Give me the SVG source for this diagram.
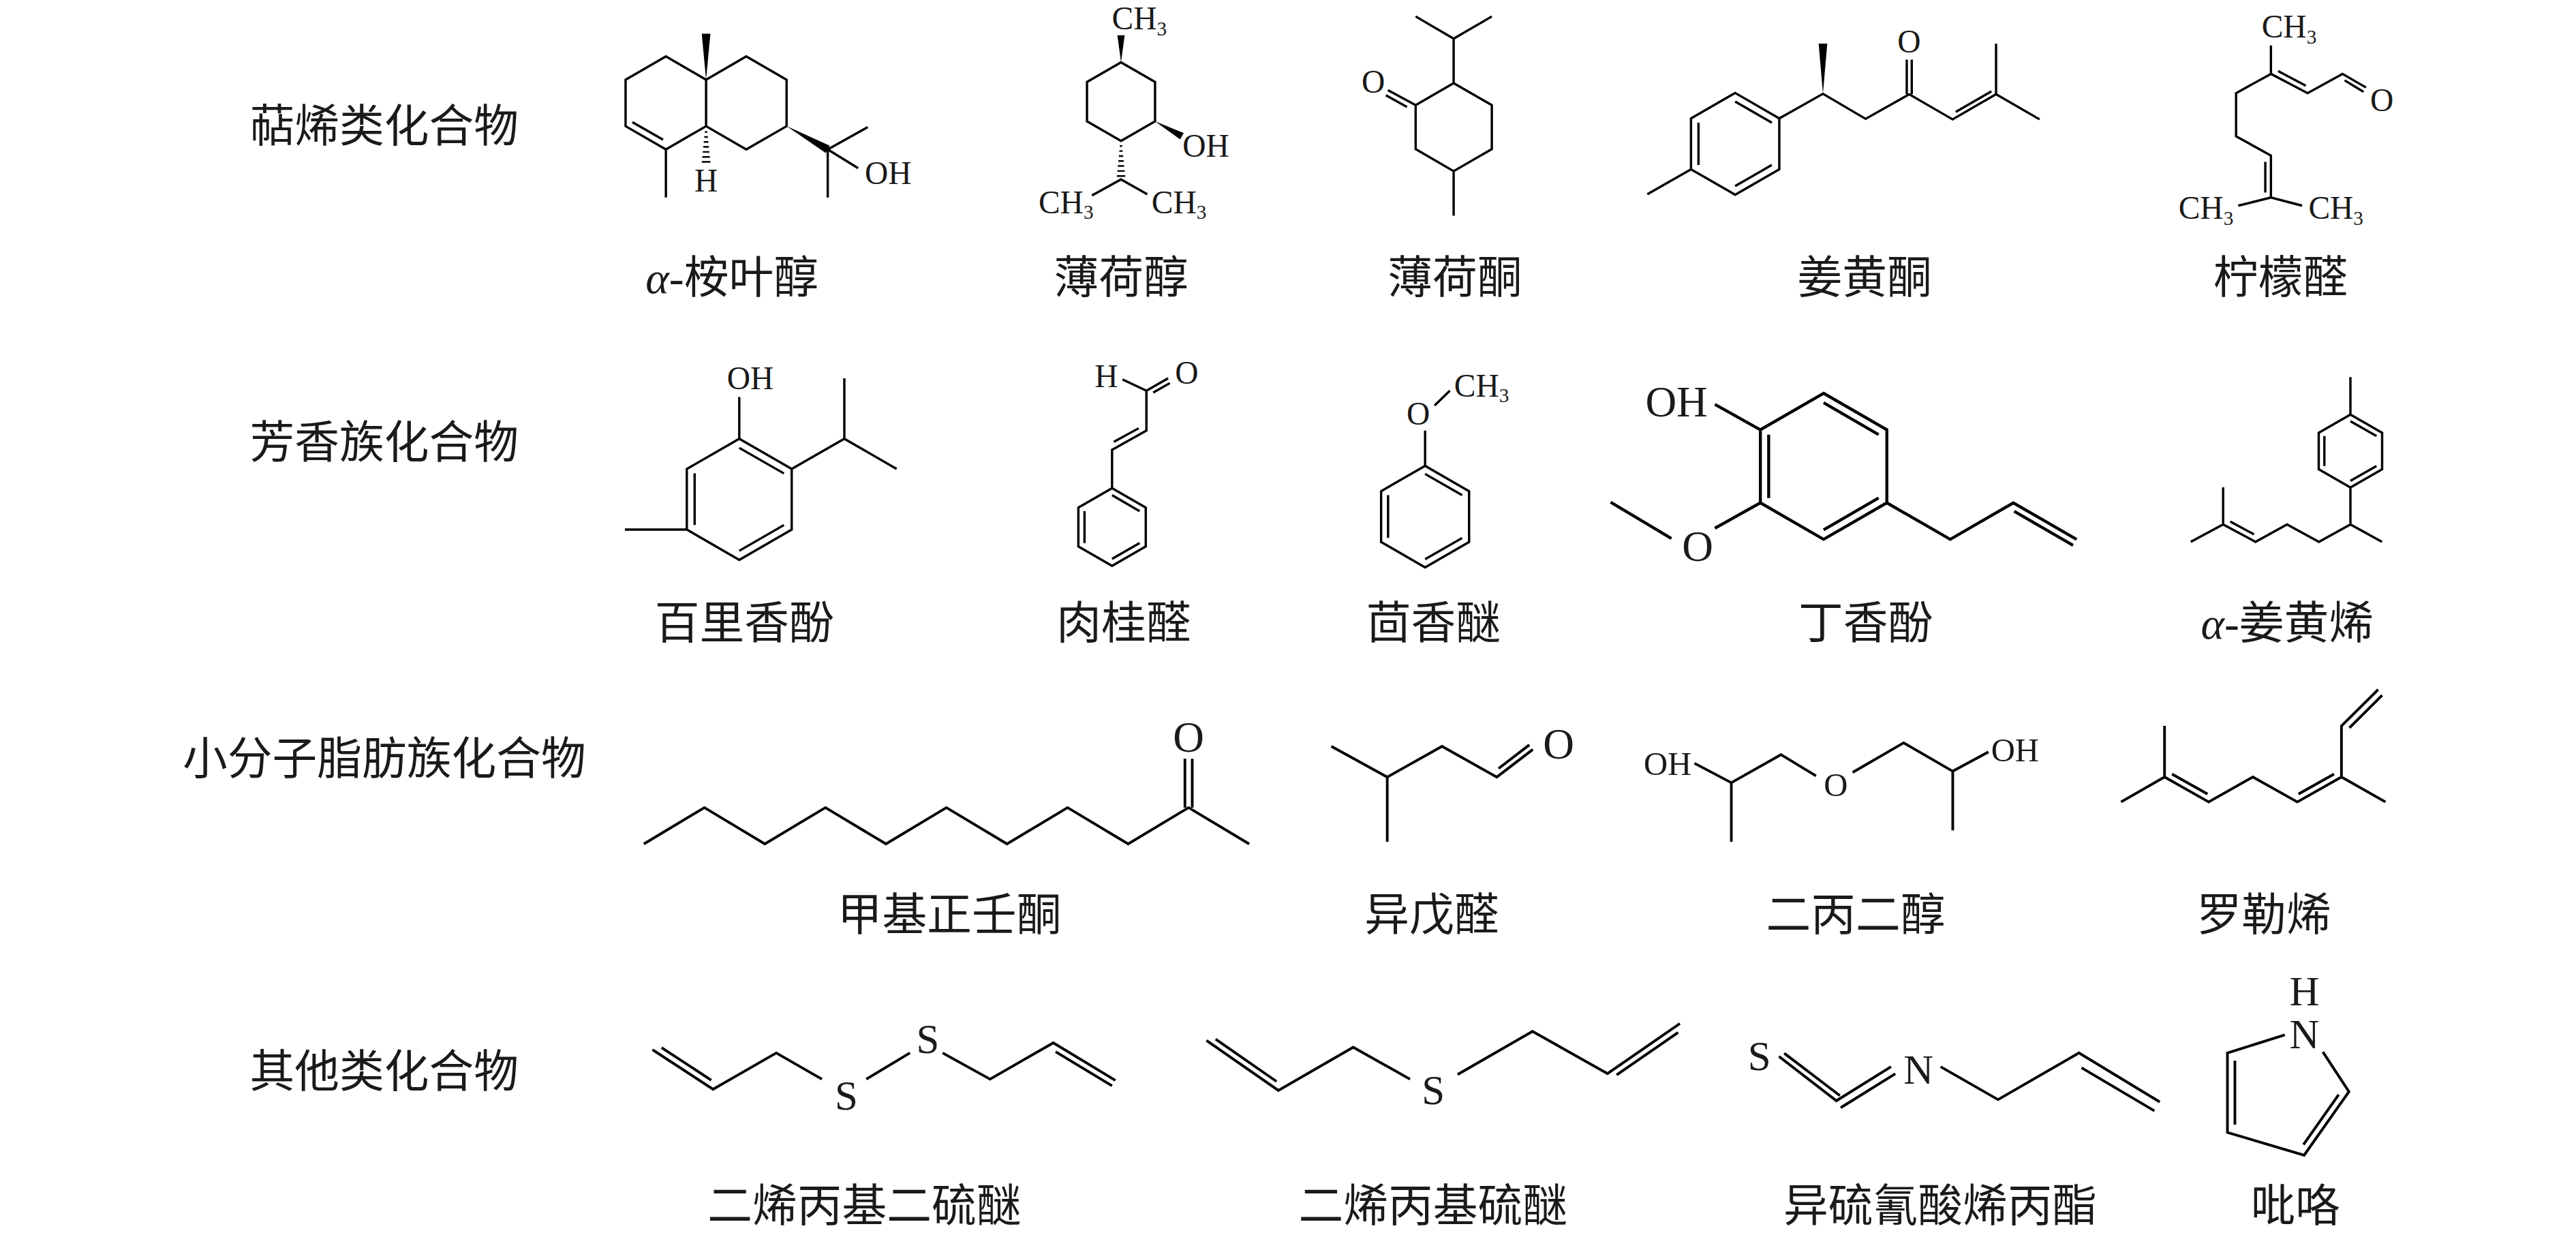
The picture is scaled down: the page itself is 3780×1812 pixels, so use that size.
<svg xmlns="http://www.w3.org/2000/svg" width="3780" height="1812" viewBox="0 0 3780 1812">
<style>
.b{fill:none;stroke:#000;stroke-width:1.4;stroke-linejoin:miter;stroke-linecap:butt}
.t{stroke-width:1.8}
.m{stroke-width:1.6}
.h{stroke-width:1}
.f{fill:#000;stroke:none}
.a{font-family:"Liberation Serif",serif;font-size:19.5px;fill:#1a1a1a}
.a26{font-size:26px}
.a25{font-size:25px}
.a20{font-size:20px}
.s{font-size:12px}
.c{text-anchor:middle}
.lab{font-family:"Liberation Serif","Noto Sans CJK SC",sans-serif;font-size:27px;fill:#1a1a1a;text-anchor:middle;font-weight:400}
.it{font-style:italic}
</style>
<rect width="3780" height="1812" fill="#fff"/>
<g transform="scale(2.435567)">
<g id="categories">
<text class="lab" x="231.5" y="85.3">萜烯类化合物</text>
<text class="lab" x="231.5" y="276">芳香族化合物</text>
<text class="lab" x="231.5" y="466.5">小分子脂肪族化合物</text>
<text class="lab" x="231.5" y="655">其他类化合物</text>
</g>
<g id="eudesmol">
<path class="b" d="M401.2,34 L376.9,48 L376.9,76 L401.2,90 L425.4,76 L425.4,48 Z M425.4,48 L449.6,34 L473.9,48 L473.9,76 L449.6,90 L425.4,76 M381,73.6 L399.5,84.2 M401.2,90 V119 M498.7,90 L522.8,76.6 M498.7,90 V119 M498.7,90 L517,101.3"/>
<polygon class="f" points="425.4,48 422.8,20.3 428,20.3"/>
<polygon class="f" points="473.9,76 497.5,92.2 499.9,87.8"/>
<path class="b h" d="M424.6,79.5H426.2 M424.3,82.5H426.5 M424,85.5H426.8 M423.7,88.5H427.1 M423.4,91.5H427.4 M423.1,94.5H427.7 M422.8,97.5H428"/>
<text class="a c" x="425.4" y="115.5">H</text>
<text class="a" x="521" y="111">OH</text>
<text class="lab" x="441" y="176.7"><tspan class="it">α</tspan>-桉叶醇</text>
</g>
<g id="menthol">
<path class="b" d="M675.4,37.6 L695.9,49.4 L695.9,73.1 L675.4,84.9 L654.9,73.1 L654.9,49.4 Z M657.9,117.7 L675.4,108.1 L691.2,117"/>
<polygon class="f" points="675.4,37.6 673.2,21.2 677.6,21.2"/>
<polygon class="f" points="695.9,73.1 711,84 713.2,80.2"/>
<path class="b h" d="M674.7,88H676.1 M674.4,91H676.4 M674.1,94H676.7 M673.8,97H677 M673.5,100H677.3 M673.2,103H677.6 M672.9,106H677.9"/>
<text class="a" x="669.9" y="17.8">CH<tspan class="s" dy="3.5">3</tspan></text>
<text class="a" x="712.5" y="94.4">OH</text>
<text class="a" x="625.7" y="128.5">CH<tspan class="s" dy="3.5">3</tspan></text>
<text class="a" x="693.8" y="128.5">CH<tspan class="s" dy="3.5">3</tspan></text>
<text class="lab" x="675.5" y="176.7">薄荷醇</text>
</g>
<g id="menthone">
<path class="b" d="M875.8,50.1 L898.8,63.35 L898.8,89.85 L875.8,103.1 L852.9,89.85 L852.9,63.35 Z M852.9,9.9 L875.8,23.3 L898.8,9.9 M875.8,23.3 V50.1 M852.9,63.35 L836.2,54.3 M847.7,64.5 L835,57.4 M875.8,103.1 V130"/>
<text class="a c" x="827.4" y="56">O</text>
<text class="lab" x="876.5" y="176.7">薄荷酮</text>
</g>
<g id="ar-turmerone">
<path class="b" d="M1045.4,56 L1072,71.3 L1072,102 L1045.4,117.3 L1018.8,102 L1018.8,71.3 Z M1045.4,61.2 L1067.5,73.9 M1067.5,99.4 L1045.4,112.1 M1023.3,99.4 L1023.3,73.9 M1018.8,102 L992.5,117 M1072,71.3 L1098.3,56.5 L1124,71.6 L1150.3,56.8 L1176.4,71.9 L1202.6,56.8 L1228.8,71.9 M1148.8,56.8 V35.9 M1151.8,56.8 V35.9 M1178.3,67.4 L1199.8,55 M1202.6,56.8 V26.3"/>
<polygon class="f" points="1098.3,56.5 1095.7,26.3 1100.9,26.3"/>
<text class="a c" x="1150.2" y="31.5">O</text>
<text class="lab" x="1123.4" y="176.7">姜黄酮</text>
</g>
<g id="citral">
<path class="b" d="M1368.2,27.4 V44.5 L1390.3,56.1 L1411.3,44.5 L1425.5,52.7 M1412.6,48.4 L1424,55.3 M1372.5,42.8 L1389.2,51.6 M1368.2,44.5 L1347.2,56.1 V82.1 L1368.2,93.7 V119 M1364.8,97.5 V116 M1348.5,123.9 L1368.2,119 L1387,123.9"/>
<text class="a" x="1362.6" y="22.6">CH<tspan class="s" dy="3.5">3</tspan></text>
<text class="a c" x="1435" y="67">O</text>
<text class="a" x="1312.5" y="132">CH<tspan class="s" dy="3.5">3</tspan></text>
<text class="a" x="1390.8" y="132">CH<tspan class="s" dy="3.5">3</tspan></text>
<text class="lab" x="1374" y="176.7">柠檬醛</text>
</g>
<g id="thymol">
<path class="b" d="M445.4,264.3 L477,282.5 L477,319 L445.4,337.3 L413.8,319 L413.8,282.5 Z M445.4,269.8 L472.3,285.2 M472.3,316.3 L445.4,331.8 M418.5,316.3 L418.5,285.2 M445.4,264.3 V239.2 M477,282.5 L508.7,264.3 L540.2,282.5 M508.7,264.3 V227.9 M413.8,319 H376.5"/>
<text class="a" x="438" y="234.5">OH</text>
<text class="lab" x="448.5" y="384.7">百里香酚</text>
</g>
<g id="cinnamaldehyde">
<path class="b" d="M670,294.1 L690.3,305.8 L690.3,329.2 L670,340.9 L649.7,329.2 L649.7,305.8 Z M670,298.3 L686.6,307.9 M686.6,327.1 L670,336.7 M653.4,327.1 L653.4,307.9 M670,294.1 V271 L690.7,259.4 V235.4 L703.8,227.9 M676.3,228.6 L690.7,235.4 M671.1,266.2 L686,258 M694.8,236.5 L704.8,230.8"/>
<text class="a c" x="666.5" y="233.4">H</text>
<text class="a c" x="715" y="231.3">O</text>
<text class="lab" x="677" y="384.7">肉桂醛</text>
</g>
<g id="anisole">
<path class="b" d="M858.6,280.6 L885.1,295.9 L885.1,326.5 L858.6,341.8 L832.1,326.5 L832.1,295.9 Z M858.6,285.5 L880.9,298.3 M880.9,324.1 L858.6,336.9 M836.3,324.1 L836.3,298.3 M858.6,280.6 V259.4 M864.3,244.3 L873.5,235.4"/>
<text class="a c" x="854.5" y="255.9">O</text>
<text class="a" x="876.1" y="238.8">CH<tspan class="s" dy="3.5">3</tspan></text>
<text class="lab" x="863.6" y="384.7">茴香醚</text>
</g>
<g id="eugenol">
<path class="b t" d="M1098.7,236.9 L1136.8,258.9 L1136.8,302.9 L1098.7,324.9 L1060.6,302.9 L1060.6,258.9 Z M1098.7,242.6 L1131.8,261.8 M1131.8,300 L1098.7,319.2 M1065.6,261.8 L1065.6,300 M1060.6,258.9 L1033.2,243.6 M1060.6,302.9 L1033.2,318.2 M1007,324.4 L970.4,302.5 M1136.8,302.9 L1175,324.9 L1213,302.9 L1251.1,324.9 M1213.5,308 L1249,328.5"/>
<text class="a a26" x="991.3" y="251">OH</text>
<text class="a a26 c" x="1022.8" y="338">O</text>
<text class="lab" x="1124" y="384.7">丁香酚</text>
</g>
<g id="ar-curcumene">
<path class="b" d="M1416.1,249.7 L1435.2,260.7 L1435.2,282.7 L1416.1,293.7 L1397,282.7 L1397,260.7 Z M1416.1,253.7 L1431.8,262.7 M1431.8,280.7 L1416.1,289.7 M1400.4,280.7 L1400.4,262.7 M1416.1,227.2 V249.7 M1416.1,293.7 V315.9 M1435.1,326.4 L1416.1,315.9 L1397.1,326.4 L1377.9,315.9 L1358.9,326.4 L1339.4,315.9 L1319.9,326.4 M1339.4,315.9 V293.6 M1343.7,314.2 L1358,321.9"/>
<text class="lab" x="1378" y="384.7"><tspan class="it">α</tspan>-姜黄烯</text>
</g>
<g id="undecanone">
<path class="b m" d="M387.9,508.4 L424.4,486.5 L460.8,508.4 L497.3,486.5 L533.8,508.4 L570.2,486.5 L606.7,508.4 L643.2,486.5 L679.7,508.4 L716.1,486.5 L752.6,508.4 M713.9,486.5 V457.1 M718.3,486.5 V457.1"/>
<text class="a a26 c" x="716.1" y="453">O</text>
<text class="lab" x="572" y="560.6">甲基正壬酮</text>
</g>
<g id="isovaleraldehyde">
<path class="b m" d="M802.1,449.6 L835.8,468.1 L868.8,449.6 L901.8,468.1 L923.5,451.5 M835.8,468.1 V507.1 M902.9,462.9 L921.4,448.7"/>
<text class="a a26 c" x="939" y="457">O</text>
<text class="lab" x="862.6" y="560.6">异戊醛</text>
</g>
<g id="dipropylene-glycol">
<path class="b m" d="M1020.9,459.8 L1043.1,471.5 L1073,454.6 L1094.1,467.4 M1043.1,471.5 V507.1 M1116.2,465.3 L1146.9,447.5 L1176.5,464.6 L1198,453 M1176.5,464.6 V500.2"/>
<text class="a a20" x="990.3" y="466.7">OH</text>
<text class="a a20 c" x="1106" y="479.7">O</text>
<text class="a a20" x="1199.6" y="458.5">OH</text>
<text class="lab" x="1118" y="560.6">二丙二醇</text>
</g>
<g id="ocimene">
<path class="b m" d="M1277.9,483.1 L1304.1,468.1 L1330.7,483.1 L1357.3,468.1 L1384.1,483.1 L1410.7,468.1 L1437.2,483.1 M1304.1,468.1 V437.3 M1410.7,468.1 V437.3 L1432.8,415.4 M1308.6,466.3 L1330,478.3 M1384.8,478.3 L1406.2,466.3 M1415.5,438.5 L1435.2,418.8"/>
<text class="lab" x="1364" y="560.6">罗勒烯</text>
</g>
<g id="diallyl-disulfide">
<path class="b m" d="M393.1,632.3 L429.6,656.2 L467.7,634.3 L495.2,650.1 M521.9,650.1 L548.2,634.3 M567.9,634.3 L596.5,650.1 L634.6,628.2 L672,650.8 M398.6,631.1 L428.5,650.7 M636,633.6 L670,654.1"/>
<text class="a a25 c" x="509.9" y="668.6">S</text>
<text class="a a25 c" x="559" y="634.3">S</text>
<text class="lab" x="520.8" y="735.8">二烯丙基二硫醚</text>
</g>
<g id="diallyl-sulfide">
<path class="b m" d="M726.9,626.8 L770.2,656.9 L815.3,630.9 L849.5,650.1 M878.2,647.3 L923.3,621.3 L968.5,646.7 L1012.1,616.6 M732.4,626 L769.1,651.5 M974,647.5 L1011,622"/>
<text class="a a25 c" x="863.5" y="665">S</text>
<text class="lab" x="863.4" y="735.8">二烯丙基硫醚</text>
</g>
<g id="allyl-isothiocyanate">
<path class="b m" d="M1071.8,636.4 L1106.4,663.1 L1139.3,642.6 M1075,634.5 L1108.5,660 M1109,667.3 L1141.9,646.8 M1169.2,642.6 L1203.8,662.4 L1252.5,634.3 L1301.2,663.8 M1254.1,643.2 L1298,669.2"/>
<text class="a a25 c" x="1060" y="644.6">S</text>
<text class="a a25 c" x="1155.9" y="652.8">N</text>
<text class="lab" x="1169" y="735.8">异硫氰酸烯丙酯</text>
</g>
<g id="pyrrole">
<path class="b m" d="M1376.6,623.4 L1342,634.3 V682.2 L1388.2,695.9 L1415.2,657.6 L1399.5,633.7 M1346.5,639 V677.5 M1387.8,689.5 L1409,659.4"/>
<text class="a a25 c" x="1388.4" y="605.6">H</text>
<text class="a a25 c" x="1388.4" y="631.6">N</text>
<text class="lab" x="1383" y="735.8">吡咯</text>
</g>
</g>
</svg>
